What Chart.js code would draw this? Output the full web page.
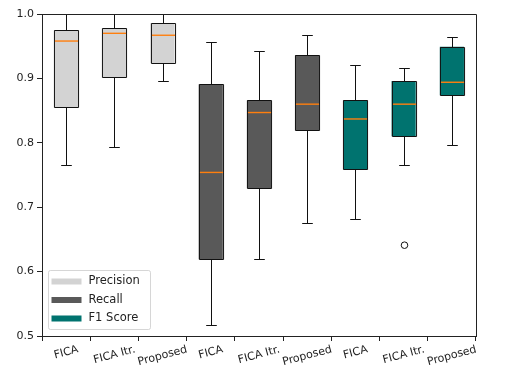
<!DOCTYPE html>
<html>
<head>
<meta charset="utf-8">
<script src="https://cdn.jsdelivr.net/npm/chart.js@4"></script>
<style>
  html, body { margin: 0; padding: 0; background: #fff; }
  canvas { display: block; }
</style>
</head>
<body>
<canvas id="boxChart" width="511" height="383"></canvas>
<script>
// Categories along the x axis (three methods, repeated for each metric)
const categories = ['FICA', 'FICA Itr.', 'Proposed', 'FICA', 'FICA Itr.', 'Proposed', 'FICA', 'FICA Itr.', 'Proposed'];
const metrics = ['Precision', 'Recall', 'F1 Score'];
const metricColors = ['#d3d3d3', '#595959', '#00736f'];
const metricOf = [0, 0, 0, 1, 1, 1, 2, 2, 2]; // which metric each box belongs to

// Box plot statistics
const whiskerLow  = [0.766, 0.793, 0.896, 0.517, 0.620, 0.676, 0.682, 0.766, 0.797];
const q1          = [0.855, 0.902, 0.924, 0.619, 0.730, 0.820, 0.759, 0.810, 0.874];
const median      = [0.958, 0.970, 0.967, 0.754, 0.847, 0.860, 0.837, 0.860, 0.894];
const q3          = [0.975, 0.978, 0.986, 0.891, 0.866, 0.936, 0.866, 0.896, 0.949];
const whiskerHigh = [1.000, 1.000, 1.000, 0.957, 0.942, 0.968, 0.921, 0.916, 0.965];
const outliers    = [[], [], [], [], [], [], [], [0.641], []];

const yTicks = [0.5, 0.6, 0.7, 0.8, 0.9, 1.0];

Chart.defaults.font.family = 'DejaVu Sans';
Chart.defaults.font.size = 11;
Chart.defaults.color = '#222';

// One floating-bar dataset per metric, boxes span q1..q3
const datasets = metrics.map((name, m) => ({
    label: name,
    data: categories.map((c, i) => metricOf[i] === m ? [q1[i], q3[i]] : null),
    backgroundColor: metricColors[m],
    borderWidth: 0,
    barPercentage: 0.5,
    categoryPercentage: 1.0,
    grouped: false
}));

// Box outlines, whiskers, caps, medians, outliers, frame, rotated labels and legend
const boxExtras = {
    id: 'boxExtras',
    afterDatasetsDraw(chart) {
        const ctx = chart.ctx;
        const xs = chart.scales.x, ys = chart.scales.y;
        const unit = xs.getPixelForValue(1) - xs.getPixelForValue(0);
        const half = unit * 0.25;
        const capHalf = unit * 0.11;
        const px = v => Math.round(v) + 0.5;
        ctx.save();
        ctx.lineWidth = 1;
        categories.forEach((c, i) => {
            const x = px(xs.getPixelForValue(i));
            const yq1 = px(ys.getPixelForValue(q1[i]));
            const yq3 = px(ys.getPixelForValue(q3[i]));
            const yl = px(ys.getPixelForValue(whiskerLow[i]));
            const yh = px(ys.getPixelForValue(whiskerHigh[i]));
            ctx.strokeStyle = '#111';
            ctx.lineWidth = 1;
            ctx.beginPath();
            // box outline
            ctx.rect(x - half, yq3, half * 2, yq1 - yq3);
            // whiskers and caps
            ctx.moveTo(x, yq1); ctx.lineTo(x, yl);
            ctx.moveTo(x, yq3); ctx.lineTo(x, yh);
            ctx.moveTo(x - capHalf, yl); ctx.lineTo(x + capHalf, yl);
            ctx.moveTo(x - capHalf, yh); ctx.lineTo(x + capHalf, yh);
            ctx.stroke();
            // median
            const ym = ys.getPixelForValue(median[i]);
            ctx.strokeStyle = '#ff7f0e';
            ctx.lineWidth = 1.4;
            ctx.beginPath();
            ctx.moveTo(x - half + 0.5, ym); ctx.lineTo(x + half - 0.5, ym);
            ctx.stroke();
            // outliers
            ctx.strokeStyle = '#111';
            ctx.lineWidth = 1;
            outliers[i].forEach(v => {
                ctx.beginPath();
                ctx.arc(x, ys.getPixelForValue(v), 3.3, 0, Math.PI * 2);
                ctx.stroke();
            });
        });
        ctx.restore();
    },
    afterDraw(chart) {
        const ctx = chart.ctx;
        const a = chart.chartArea;
        const xs = chart.scales.x;
        ctx.save();
        // top and right spines
        ctx.strokeStyle = '#222';
        ctx.lineWidth = 1;
        ctx.beginPath();
        ctx.moveTo(a.left, Math.round(a.top) + 0.5);
        ctx.lineTo(Math.round(a.right) + 0.5, Math.round(a.top) + 0.5);
        ctx.lineTo(Math.round(a.right) + 0.5, a.bottom);
        ctx.stroke();

        // x labels, rotated 15 degrees and centred under each tick
        const rot = 15 * Math.PI / 180;
        ctx.font = '11px DejaVu Sans';
        ctx.fillStyle = '#222';
        ctx.textAlign = 'center';
        ctx.textBaseline = 'middle';
        categories.forEach((c, i) => {
            const w = ctx.measureText(c).width;
            const h = 11;
            const x = xs.getPixelForValue(i);
            const top = a.bottom + 8;
            const y = top + (w * Math.sin(rot) + h * Math.cos(rot)) / 2;
            ctx.save();
            ctx.translate(x, y);
            ctx.rotate(-rot);
            ctx.fillText(c, 0, 0);
            ctx.restore();
        });

        // legend in lower-left corner of the plot
        const lx = a.left + 6.5, ly = a.bottom - 65.5, lw = 102, lh = 59;
        ctx.globalAlpha = 0.8;
        ctx.fillStyle = '#fff';
        ctx.strokeStyle = '#ccc';
        ctx.beginPath();
        ctx.roundRect(lx, ly, lw, lh, 2);
        ctx.fill();
        ctx.stroke();
        ctx.globalAlpha = 1;
        ctx.font = '11.5px DejaVu Sans';
        ctx.textAlign = 'left';
        ctx.textBaseline = 'middle';
        metrics.forEach((name, m) => {
            const ry = ly + 11 + m * 18.5;
            ctx.fillStyle = metricColors[m];
            ctx.fillRect(lx + 3, ry - 3, 30, 6);
            ctx.fillStyle = '#222';
            ctx.fillText(name, lx + 40, ry);
        });
        ctx.restore();
    }
};

new Chart(document.getElementById('boxChart'), {
    type: 'bar',
    data: { labels: categories, datasets: datasets },
    options: {
        responsive: false,
        animation: false,
        layout: { padding: { top: 14, right: 35, left: 0, bottom: 0 } },
        plugins: { legend: { display: false }, tooltip: { enabled: false } },
        scales: {
            x: {
                type: 'category',
                offset: true,
                grid: { display: true, drawOnChartArea: false, drawTicks: true, tickLength: 5, color: '#222' },
                border: { display: true, color: '#222' },
                ticks: { color: 'rgba(0,0,0,0)', maxRotation: 0, autoSkip: false },
                afterFit: s => { s.height = 47; }
            },
            y: {
                min: 0.5,
                max: 1.0,
                afterBuildTicks: s => { s.ticks = yTicks.map(v => ({ value: v })); },
                grid: { display: true, drawOnChartArea: false, drawTicks: true, tickLength: 5, color: '#222' },
                border: { display: true, color: '#222' },
                ticks: { padding: 3, callback: v => v.toFixed(1) },
                afterFit: s => { s.width = 42; }
            }
        }
    },
    plugins: [boxExtras]
});
</script>
</body>
</html>
